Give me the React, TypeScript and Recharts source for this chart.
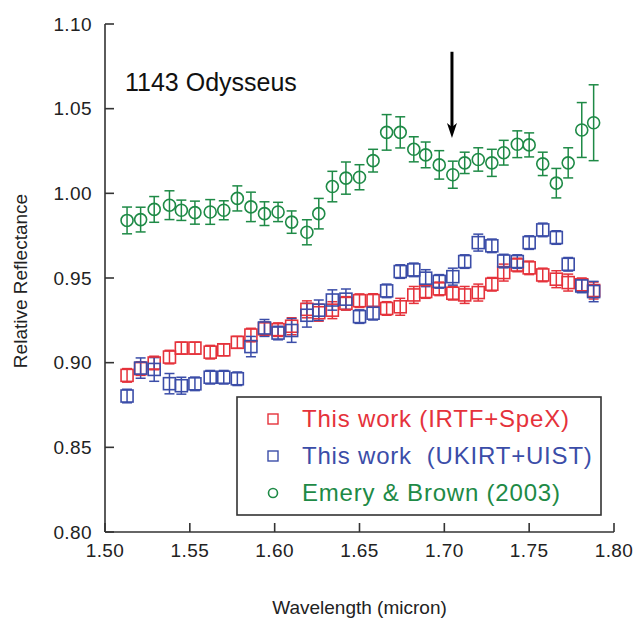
import React from "react";
import { ScatterChart, Scatter, XAxis, YAxis, ErrorBar, ReferenceLine } from "recharts";

// Wavelength grid shared by the three spectra (micron)
const wavelengths = [
	1.513, 1.521, 1.529, 1.538, 1.545, 1.553, 1.562, 1.57, 1.578, 1.586, 1.594, 1.602,
	1.61, 1.619, 1.626, 1.634, 1.642, 1.65, 1.658, 1.666, 1.674, 1.682, 1.689, 1.697,
	1.705, 1.712, 1.72, 1.728, 1.735, 1.743, 1.75, 1.758, 1.766, 1.773, 1.781, 1.788,
];

// This work (IRTF+SpeX)
const irtfReflectance = [
	0.8925, 0.8965, 0.8998, 0.9033, 0.9086, 0.9086, 0.9062, 0.9076, 0.912, 0.9163, 0.92, 0.9195,
	0.9215, 0.9315, 0.9295, 0.931, 0.935, 0.9366, 0.9367, 0.932, 0.933, 0.94, 0.942, 0.9436,
	0.941, 0.94, 0.9414, 0.9463, 0.9532, 0.9577, 0.956, 0.9518, 0.9493, 0.9473, 0.946, 0.9426,
];
const irtfError = [
	0.004, 0.004, 0.004, 0.004, 0.0035, 0.0035, 0.004, 0.0035, 0.0035, 0.004, 0.004, 0.004,
	0.005, 0.005, 0.005, 0.005, 0.004, 0.004, 0.004, 0.004, 0.005, 0.005, 0.004, 0.004,
	0.004, 0.005, 0.005, 0.004, 0.005, 0.004, 0.004, 0.004, 0.005, 0.005, 0.004, 0.005,
];

// This work (UKIRT+UIST)
const ukirtReflectance = [
	0.8803, 0.8968, 0.896, 0.8876, 0.8864, 0.8875, 0.8914, 0.8914, 0.8905, 0.9095, 0.9205, 0.9175,
	0.919, 0.928, 0.931, 0.937, 0.9375, 0.9272, 0.9292, 0.9424, 0.9538, 0.9548, 0.9499, 0.948,
	0.9508, 0.9597, 0.9709, 0.969, 0.96, 0.9597, 0.9709, 0.9784, 0.9739, 0.9581, 0.9453, 0.942,
];
const ukirtError = [
	0.004, 0.006, 0.007, 0.006, 0.005, 0.004, 0.004, 0.004, 0.004, 0.006, 0.005, 0.004,
	0.007, 0.007, 0.006, 0.006, 0.006, 0.004, 0.004, 0.004, 0.004, 0.004, 0.005, 0.004,
	0.005, 0.004, 0.005, 0.004, 0.004, 0.004, 0.004, 0.004, 0.004, 0.004, 0.004, 0.006,
];

// Emery & Brown (2003)
const emeryReflectance = [
	0.984, 0.9845, 0.9905, 0.993, 0.99, 0.9886, 0.989, 0.99, 0.997, 0.992, 0.988, 0.989,
	0.983, 0.977, 0.988, 1.004, 1.009, 1.0095, 1.0193, 1.036, 1.036, 1.026, 1.0227, 1.0168,
	1.011, 1.018, 1.02, 1.018, 1.024, 1.029, 1.0286, 1.0174, 1.006, 1.018, 1.0374, 1.0417,
];
const emeryError = [
	0.0079, 0.0073, 0.0076, 0.0085, 0.006, 0.0068, 0.0073, 0.0056, 0.0074, 0.0087, 0.007, 0.0057,
	0.0066, 0.0074, 0.009, 0.009, 0.0095, 0.0074, 0.0067, 0.0105, 0.0092, 0.0074, 0.0076, 0.0084,
	0.008, 0.0063, 0.0069, 0.008, 0.0073, 0.0079, 0.0071, 0.0069, 0.0087, 0.0089, 0.0162, 0.0224,
];

const xTicks = [1.5, 1.55, 1.6, 1.65, 1.7, 1.75, 1.8];
const yTicks = [0.8, 0.85, 0.9, 0.95, 1.0, 1.05, 1.1];

// Arrow marking the absorption feature
const arrowWavelength = 1.7045;
const arrowTop = 1.0836;
const arrowTip = 1.0327;

const RED = "#e5323b";
const BLUE = "#3b4da8";
const GREEN = "#1e8a46";
const AXIS = "#333";
const FONT = "'Liberation Sans', Arial, Helvetica, sans-serif";

const toPoints = (values: number[], errors: number[]) =>
	wavelengths.map((w, i) => ({ x: w, y: values[i], err: errors[i] }));

const irtfData = toPoints(irtfReflectance, irtfError);
const ukirtData = toPoints(ukirtReflectance, ukirtError);
const emeryData = toPoints(emeryReflectance, emeryError);

const squareShape = (color: string) => (props: any) => (
	<rect x={props.cx - 6} y={props.cy - 6} width={12} height={12} fill="none" stroke={color} strokeWidth={1.6} />
);

const circleShape = (props: any) => (
	<circle cx={props.cx} cy={props.cy} r={6} fill="none" stroke={GREEN} strokeWidth={1.6} />
);

const ArrowShape = (props: any) => {
	const { x1, y1, x2, y2 } = props;
	return (
		<g>
			<line x1={x1} y1={y1} x2={x2} y2={y2 - 8} stroke="#000" strokeWidth={3} />
			<polygon points={`${x2},${y2} ${x2 - 5},${y2 - 15} ${x2},${y2 - 11} ${x2 + 5},${y2 - 15}`} fill="#000" />
		</g>
	);
};

const fmt = (v: number) => v.toFixed(2);

const axisLine = { stroke: AXIS, strokeWidth: 1.6 };
const tickStyle = { fill: "#222", fontSize: 19, fontFamily: FONT, letterSpacing: 0.4 };

export default function App() {
	return (
		<div style={{ position: "absolute", left: 0, top: 0, width: 636, height: 618, background: "#fff" }}>
			<ScatterChart width={636} height={618} margin={{ top: 24, right: 22, bottom: 0, left: 0 }}>
				<XAxis
					type="number"
					dataKey="x"
					domain={[1.5, 1.8]}
					ticks={xTicks}
					tickFormatter={fmt}
					height={86}
					tickSize={-9}
					tickMargin={21}
					axisLine={axisLine}
					tickLine={axisLine}
					tick={tickStyle}
					allowDataOverflow
					label={{
						content: (p: any) => {
							const vb = p.viewBox;
							return (
								<text x={vb.x + vb.width / 2} y={vb.y + 82} textAnchor="middle" fill="#222" fontSize={19} fontFamily={FONT}>
									Wavelength (micron)
								</text>
							);
						},
					}}
				/>
				<XAxis
					xAxisId="top"
					orientation="top"
					type="number"
					domain={[1.5, 1.8]}
					ticks={xTicks}
					height={0}
					tickSize={-9}
					tick={false}
					axisLine={axisLine}
					tickLine={axisLine}
					allowDataOverflow
				/>
				<YAxis
					type="number"
					dataKey="y"
					domain={[0.8, 1.1]}
					ticks={yTicks}
					tickFormatter={fmt}
					width={105}
					tickSize={-9}
					tickMargin={22}
					axisLine={axisLine}
					tickLine={axisLine}
					tick={tickStyle}
					allowDataOverflow
					label={{
						content: (p: any) => {
							const vb = p.viewBox;
							const x = vb.x + 27;
							const y = vb.y + vb.height / 2 + 3;
							return (
								<text x={x} y={y} transform={`rotate(-90 ${x} ${y})`} textAnchor="middle" fill="#222" fontSize={19} fontFamily={FONT}>
									Relative Reflectance
								</text>
							);
						},
					}}
				/>
				<YAxis
					yAxisId="right"
					orientation="right"
					type="number"
					domain={[0.8, 1.1]}
					ticks={yTicks}
					width={0}
					tickSize={-9}
					tick={false}
					axisLine={axisLine}
					tickLine={axisLine}
					allowDataOverflow
				/>
				<Scatter data={irtfData} shape={squareShape(RED)} isAnimationActive={false}>
					<ErrorBar dataKey="err" direction="y" width={5} stroke={RED} strokeWidth={1.5} />
				</Scatter>
				<Scatter data={ukirtData} shape={squareShape(BLUE)} isAnimationActive={false}>
					<ErrorBar dataKey="err" direction="y" width={5} stroke={BLUE} strokeWidth={1.5} />
				</Scatter>
				<Scatter data={emeryData} shape={circleShape} isAnimationActive={false}>
					<ErrorBar dataKey="err" direction="y" width={5} stroke={GREEN} strokeWidth={1.5} />
				</Scatter>
				<ReferenceLine
					segment={[
						{ x: arrowWavelength, y: arrowTop },
						{ x: arrowWavelength, y: arrowTip },
					]}
					shape={ArrowShape}
				/>
			</ScatterChart>
			<svg width={636} height={618} style={{ position: "absolute", left: 0, top: 0, pointerEvents: "none" }}>
				<text x={125} y={91} fontSize={25} fontFamily={FONT} fill="#111">
					1143 Odysseus
				</text>
				<rect x={237} y={397} width={364} height={118} fill="#fff" stroke={AXIS} strokeWidth={1.6} />
				<rect x={268} y={414} width={10} height={10} fill="none" stroke={RED} strokeWidth={1.4} />
				<rect x={268} y={451} width={10} height={10} fill="none" stroke={BLUE} strokeWidth={1.4} />
				<circle cx={273} cy={493} r={4.5} fill="none" stroke={GREEN} strokeWidth={1.6} />
				<text x={302} y={427} fontSize={24} letterSpacing={0.8} fontFamily={FONT} fill={RED}>
					This work (IRTF+SpeX)
				</text>
				<text x={302} y={464} fontSize={24} letterSpacing={0.8} fontFamily={FONT} fill={BLUE} style={{ whiteSpace: "pre" }}>
					{"This work  (UKIRT+UIST)"}
				</text>
				<text x={302} y={501} fontSize={24} letterSpacing={0.8} fontFamily={FONT} fill={GREEN}>
					Emery &amp; Brown (2003)
				</text>
			</svg>
		</div>
	);
}
